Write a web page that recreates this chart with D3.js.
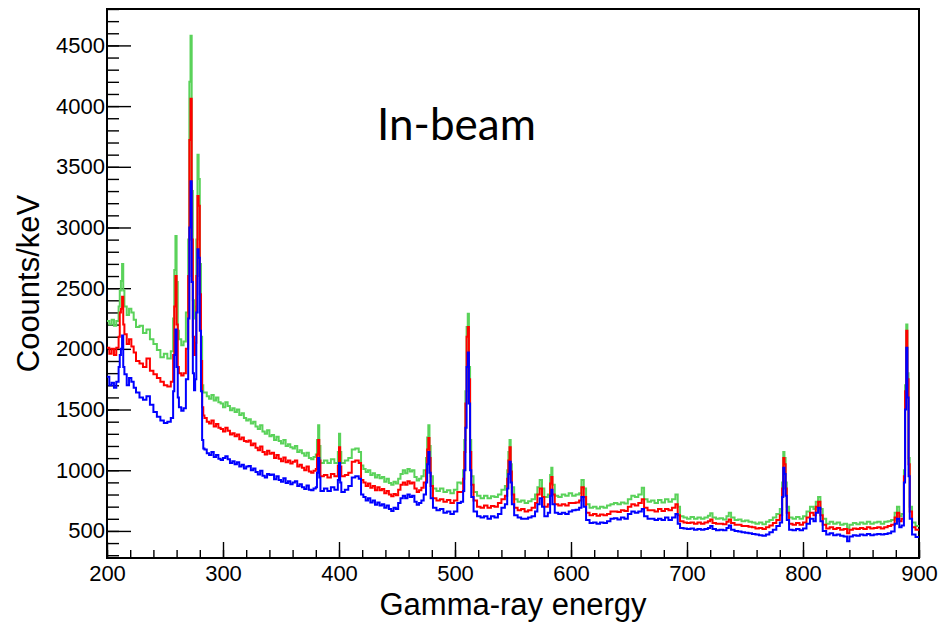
<!DOCTYPE html>
<html>
<head>
<meta charset="utf-8">
<script src="https://cdn.jsdelivr.net/npm/d3@7"></script>
<style>
    body { margin: 0; background: #fff; }
    svg { display: block; }
    .tick text { font-family: "Liberation Sans", Arial, Helvetica, sans-serif; font-size: 22px; fill: #000; }
    .tick line { stroke: #000; stroke-width: 1.4; }
    .axis-title { font-family: "Liberation Sans", Arial, Helvetica, sans-serif; font-size: 31px; fill: #000; }
    .label { font-family: Lato, "Open Sans", sans-serif; font-size: 44px; fill: #000; }
</style>
</head>
<body>
<svg id="chart" width="944" height="623"></svg>
<script>
// Low edge of each bin (keV); the last bin runs to energyMax
const energyBins = [
    // 200 - 283
    200, 202, 204, 206, 208, 210, 211, 212, 213, 214, 215, 217, 219, 221, 223, 225, 228, 231, 234, 237,
    240, 243, 246, 249, 252, 255, 257, 258, 259, 260, 261, 262, 264, 266, 268, 270, 271, 272, 273, 274,
    275, 276, 277, 278, 279, 280, 281, 282, 283,
    // 284 - 378
    284, 286, 288, 290, 292, 294, 296, 298, 300, 302, 304, 306, 308, 310, 312, 314, 316, 318, 320, 322,
    324, 326, 328, 330, 332, 334, 336, 338, 340, 342, 344, 346, 348, 350, 352, 354, 356, 358, 360, 362,
    364, 366, 368, 370, 372, 374, 376, 378,
    // 380 - 417
    380, 381, 382, 383, 384, 387, 390, 393, 396, 399, 400, 401, 402, 405, 408, 411, 414, 417,
    // 419 - 473
    419, 421, 423, 425, 427, 429, 431, 433, 435, 437, 439, 441, 443, 445, 447, 449, 451, 453, 455, 457,
    459, 461, 463, 465, 467, 469, 471, 473,
    // 475 - 502
    475, 476, 477, 478, 479, 481, 484, 487, 490, 493, 496, 499, 502,
    // 505 - 598
    505, 507, 508, 509, 510, 511, 512, 513, 514, 516, 519, 522, 525, 528, 531, 534, 537, 540, 543, 545,
    546, 547, 548, 549, 551, 554, 557, 560, 563, 566, 569, 571, 573, 575, 577, 580, 582, 583, 584, 586,
    589, 592, 595, 598,
    // 601 - 697
    601, 604, 607, 609, 611, 613, 616, 619, 622, 625, 628, 631, 634, 637, 640, 643, 646, 649, 652, 655,
    658, 661, 663, 666, 669, 672, 675, 678, 681, 684, 687, 690, 692, 694, 697,
    // 700 - 797
    700, 703, 706, 709, 712, 715, 718, 720, 722, 725, 728, 731, 734, 736, 738, 741, 744, 747, 750, 753,
    756, 759, 762, 765, 768, 771, 774, 777, 780, 782, 783, 784, 785, 786, 788, 791, 794, 797,
    // 800 - 897
    800, 803, 806, 809, 811, 813, 815, 817, 820, 823, 826, 829, 832, 835, 838, 840, 843, 846, 849, 852,
    855, 858, 861, 864, 867, 870, 873, 876, 879, 881, 883, 885, 887, 888, 889, 890, 891, 892, 894, 897
];
const energyMax = 900;

const countsGreen = [
    2230, 2200, 2240, 2190, 2230, 2350, 2480, 2560, 2700, 2480, 2350, 2280, 2330, 2300, 2240, 2180, 2190, 2130, 2160, 2080,
    2040, 1990, 1930, 1960, 1920, 1980, 2250, 2650, 2930, 2550, 2150, 2080, 2030, 2060, 2300, 2900, 4200, 4580, 3300, 2400,
    2250, 2350, 2900, 3600, 3400, 2700, 2100, 1700, 1640,
    1640, 1610, 1590, 1620, 1575, 1600, 1560, 1550, 1520, 1560, 1530, 1495, 1510, 1480, 1500, 1455, 1470, 1430, 1410, 1420,
    1385, 1400, 1360, 1340, 1370, 1320, 1300, 1330, 1280, 1290, 1250, 1275, 1240, 1220, 1250, 1200, 1215, 1190, 1180, 1200,
    1150, 1165, 1140, 1120, 1145, 1100, 1090, 1110,
    1130, 1250, 1370, 1200, 1060, 1080, 1060, 1090, 1060, 1150, 1300, 1150, 1060, 1080, 1100, 1170, 1180, 1150,
    1040, 1010, 985, 1000, 960, 975, 940, 960, 935, 945, 905, 930, 895, 880, 905, 890, 930, 970, 1000, 975,
    1010, 990, 1000, 945, 915, 930, 950, 1000,
    1100, 1270, 1370, 1200, 950, 850, 830, 850, 820, 835, 810, 840, 900,
    890, 1000, 1250, 1650, 2180, 2290, 1850, 1250, 950, 820, 790, 770, 790, 770, 785, 780, 800, 840, 870, 1000,
    1150, 1250, 1050, 860, 760, 740, 750, 730, 745, 760, 800, 860, 920, 850, 780, 800, 960, 1020, 880, 790,
    780, 800, 790, 810,
    790, 800, 810, 920, 850, 720, 690, 700, 685, 700, 690, 710, 720, 730, 720, 735, 725, 760, 790, 780,
    800, 855, 760, 740, 750, 730, 755, 735, 760, 740, 760, 800, 700, 620, 610,
    600, 615, 600, 610, 600, 610, 625, 645, 610, 600, 605, 595, 620, 650, 610, 590, 595, 580, 585, 575,
    570, 560, 570, 555, 575, 590, 610, 640, 680, 900, 1150, 1100, 900, 700, 610, 600, 615, 600,
    620, 660, 700, 680, 740, 780, 680, 600, 560, 575, 560, 570, 550, 560, 520, 550, 565, 555, 570, 560,
    575, 560, 570, 575, 560, 575, 580, 590, 650, 700, 620, 640, 1000, 1700, 2200, 1800, 1100, 700, 570, 540
];

const countsRed = [
    2010, 1960, 2000, 1950, 2010, 2100, 2300, 2330, 2430, 2200, 2120, 2040, 2080, 2020, 1970, 1900, 1880, 1850, 1920, 1820,
    1790, 1760, 1730, 1700, 1690, 1730, 1950, 2350, 2600, 2200, 1850, 1800, 1780, 1800, 2000, 2600, 3720, 4060, 2900, 2100,
    1950, 2050, 2600, 3260, 3180, 2450, 1900, 1520, 1450,
    1430, 1400, 1385, 1410, 1360, 1380, 1350, 1340, 1320, 1350, 1325, 1295, 1305, 1280, 1295, 1255, 1270, 1240, 1235, 1245,
    1205, 1220, 1185, 1165, 1195, 1150, 1130, 1160, 1135, 1145, 1100, 1125, 1095, 1075, 1105, 1065, 1080, 1055, 1070, 1080,
    1030, 1045, 1020, 1000, 1030, 990, 980, 995,
    1010, 1130, 1250, 1080, 950, 960, 940, 970, 950, 1040, 1190, 1030, 950, 960, 980, 1070, 1080, 1060,
    920, 900, 870, 890, 855, 870, 835, 860, 835, 845, 810, 830, 800, 785, 805, 795, 840, 880, 900, 880,
    910, 890, 900, 850, 820, 835, 855, 900,
    1000, 1170, 1265, 1100, 870, 770, 750, 760, 740, 755, 730, 750, 820,
    820, 930, 1150, 1550, 2100, 2180, 1750, 1150, 880, 750, 700, 690, 710, 690, 705, 700, 730, 760, 790, 930,
    1080, 1190, 990, 800, 690, 670, 680, 660, 670, 690, 730, 800, 850, 780, 700, 720, 890, 945, 800, 720,
    710, 720, 710, 730,
    730, 735, 750, 860, 780, 650, 630, 640, 625, 635, 630, 640, 660, 660, 655, 670, 665, 700, 720, 710,
    730, 760, 690, 670, 670, 660, 680, 665, 680, 670, 690, 720, 630, 580, 570,
    565, 570, 560, 570, 560, 570, 580, 595, 565, 560, 560, 555, 575, 595, 565, 550, 550, 540, 540, 535,
    530, 520, 525, 515, 530, 545, 565, 590, 630, 850, 1100, 1050, 850, 650, 560, 550, 565, 550,
    570, 610, 650, 630, 700, 740, 630, 550, 520, 530, 515, 525, 510, 515, 480, 510, 520, 515, 525, 515,
    530, 520, 525, 530, 520, 530, 540, 550, 610, 650, 580, 600, 950, 1650, 2150, 1750, 1050, 660, 530, 510
];

const countsBlue = [
    1770, 1700, 1720, 1680, 1730, 1850, 1950, 2000, 2110, 1850, 1790, 1700, 1760, 1730, 1680, 1640, 1600, 1580, 1610, 1540,
    1480, 1440, 1410, 1390, 1400, 1430, 1650, 1950, 2160, 1850, 1600, 1520, 1490, 1510, 1750, 2250, 3000, 3380, 2550, 1800,
    1660, 1750, 2300, 2820, 2750, 2150, 1650, 1250, 1180,
    1170, 1140, 1125, 1150, 1110, 1125, 1095, 1085, 1100, 1115, 1090, 1060, 1075, 1050, 1065, 1030, 1045, 1015, 1030, 1035,
    1000, 1015, 985, 965, 995, 955, 940, 970, 960, 965, 925, 950, 920, 905, 935, 895, 910, 885, 900, 910,
    870, 885, 860, 845, 875, 840, 835, 850,
    860, 980, 1100, 940, 830, 850, 830, 860, 840, 920, 1060, 900, 820, 840, 870, 940, 950, 930,
    800, 780, 750, 770, 735, 750, 715, 735, 710, 720, 690, 710, 680, 665, 690, 680, 730, 770, 790, 770,
    800, 780, 790, 740, 715, 730, 750, 800,
    900, 1050, 1150, 980, 770, 690, 670, 680, 650, 660, 640, 660, 730,
    740, 830, 1000, 1350, 1850, 1970, 1550, 1000, 780, 660, 620, 610, 620, 600, 620, 610, 640, 690, 720, 850,
    970, 1070, 900, 720, 630, 610, 600, 600, 610, 620, 660, 720, 770, 700, 620, 650, 790, 840, 720, 650,
    640, 650, 640, 660,
    670, 675, 690, 780, 700, 590, 565, 570, 560, 570, 565, 580, 600, 605, 595, 610, 600, 640, 660, 650,
    660, 680, 620, 600, 600, 590, 600, 590, 610, 590, 610, 640, 560, 525, 520,
    515, 520, 510, 515, 510, 515, 525, 540, 515, 505, 510, 505, 525, 545, 510, 500, 495, 490, 485, 480,
    475, 470, 465, 460, 470, 490, 510, 540, 570, 780, 1020, 970, 790, 590, 510, 505, 515, 505,
    520, 560, 600, 580, 650, 690, 580, 500, 470, 480, 465, 470, 460, 455, 415, 455, 465, 460, 470, 465,
    475, 465, 470, 475, 470, 475, 480, 495, 560, 600, 530, 545, 900, 1500, 2010, 1600, 950, 600, 470, 450
];

// Axis ranges and ticks
const xDomain = [200, 900];
const yDomain = [277, 4800];
const xMajorTicks = d3.range(200, 901, 100);
const xMinorTicks = d3.range(200, 901, 20);
const yMajorTicks = d3.range(500, 4501, 500);
const yMinorTicks = d3.range(300, 4801, 100);

const seriesList = [
    { name: 'green', counts: countsGreen, color: '#5ad25a' },
    { name: 'red', counts: countsRed, color: '#ff0000' },
    { name: 'blue', counts: countsBlue, color: '#0000ff' },
];

class SpectrumChart {
    constructor(svgContainer) {
        this.svg = svgContainer;
        this.init();
    }

    init() {
        const vis = this;

        vis.margin = { top: 9, right: 25, bottom: 65, left: 107 };
        vis.width = 944 - vis.margin.left - vis.margin.right;
        vis.height = 623 - vis.margin.top - vis.margin.bottom;

        vis.chart = vis.svg.append('g')
          .attr('transform', `translate(${vis.margin.left},${vis.margin.top})`);

        // Scales
        vis.xScale = d3.scaleLinear().domain(xDomain).range([0, vis.width]);
        vis.yScale = d3.scaleLinear().domain(yDomain).range([vis.height, 0]);

        // Clip so the histograms stay inside the frame
        vis.chart.append('defs').append('clipPath')
          .attr('id', 'clip')
          .append('rect')
          .attr('width', vis.width)
          .attr('height', vis.height);

        vis.drawAxes();
        vis.update();
    }

    drawAxes() {
        const vis = this;
        const fmt = d3.format('d');

        // Minor ticks (ROOT style, pointing inwards)
        vis.chart.append('g')
          .attr('transform', `translate(0,${vis.height})`)
          .call(d3.axisBottom(vis.xScale).tickValues(xMinorTicks).tickSizeInner(-8).tickSizeOuter(0).tickFormat(''))
          .call((g) => g.select('.domain').remove());

        vis.chart.append('g')
          .call(d3.axisLeft(vis.yScale).tickValues(yMinorTicks.filter((d) => d > yDomain[0])).tickSizeInner(-12).tickSizeOuter(0).tickFormat(''))
          .call((g) => g.select('.domain').remove());

        // Major ticks with labels
        vis.chart.append('g')
          .attr('transform', `translate(0,${vis.height})`)
          .call(d3.axisBottom(vis.xScale).tickValues(xMajorTicks).tickSizeInner(-16).tickSizeOuter(0).tickPadding(7).tickFormat(fmt))
          .call((g) => g.select('.domain').remove());

        vis.chart.append('g')
          .call(d3.axisLeft(vis.yScale).tickValues(yMajorTicks).tickSizeInner(-24).tickSizeOuter(0).tickPadding(2).tickFormat(fmt))
          .call((g) => g.select('.domain').remove());

        // Frame
        vis.chart.append('rect')
          .attr('width', vis.width)
          .attr('height', vis.height)
          .attr('fill', 'none')
          .attr('stroke', '#000')
          .attr('stroke-width', 2);

        // Axis titles
        vis.chart.append('text')
          .attr('class', 'axis-title')
          .attr('text-anchor', 'middle')
          .attr('x', vis.width / 2)
          .attr('y', vis.height + 57)
          .text('Gamma-ray energy');

        vis.chart.append('text')
          .attr('class', 'axis-title')
          .attr('text-anchor', 'middle')
          .attr('transform', 'rotate(-90)')
          .attr('x', -vis.height / 2)
          .attr('y', -68)
          .text('Coounts/keV');

        // Label inside the plot
        vis.chart.append('text')
          .attr('class', 'label')
          .attr('x', 270)
          .attr('y', 131)
          .text('In-beam');
    }

    update() {
        const vis = this;

        const line = d3.line()
          .x((d) => vis.xScale(d[0]))
          .y((d) => vis.yScale(d[1]))
          .curve(d3.curveStepAfter);

        seriesList.forEach((s) => {
            const points = energyBins.map((e, i) => [e, s.counts[i]]);
            points.push([energyMax, s.counts[s.counts.length - 1]]);

            vis.chart.append('path')
              .datum(points)
              .attr('class', `spectrum ${s.name}`)
              .attr('clip-path', 'url(#clip)')
              .attr('fill', 'none')
              .attr('stroke', s.color)
              .attr('stroke-width', 2)
              .attr('stroke-linejoin', 'miter')
              .attr('d', line);
        });
    }
}

const spectrumChart = new SpectrumChart(d3.select('#chart'));
</script>
</body>
</html>
